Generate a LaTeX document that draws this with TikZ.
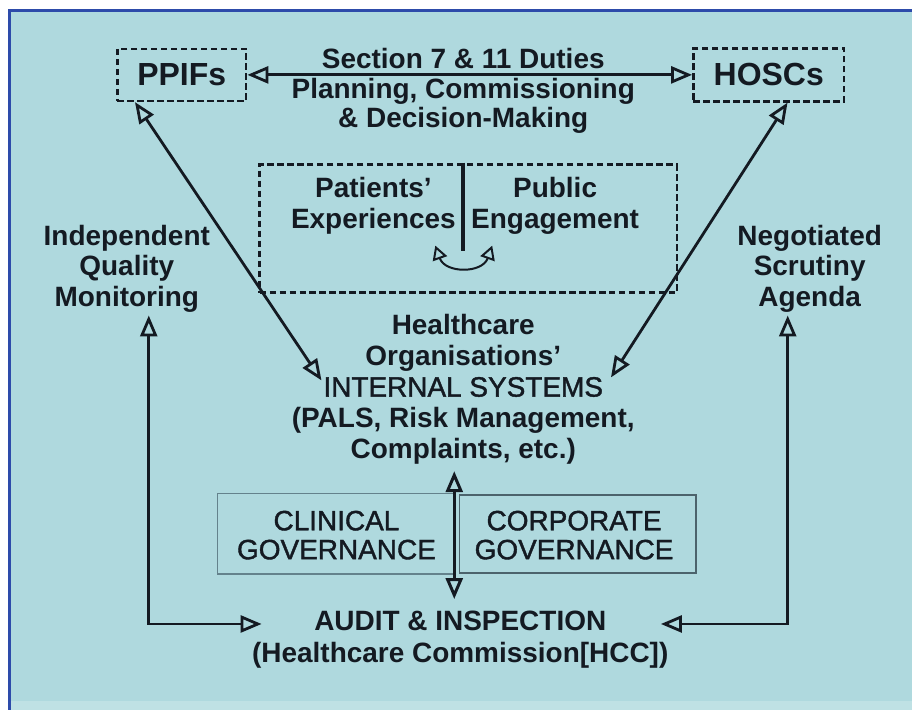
\documentclass[tikz,border=0pt]{standalone}
\usepackage{fontspec}
\setmainfont{Liberation Sans}
\font\govfont="Liberation Sans:embolden=1.4" at 28pt
\usetikzlibrary{arrows.meta,positioning}
\definecolor{panel}{RGB}{175,217,222}
\definecolor{frame}{RGB}{45,75,170}
\definecolor{ink}{RGB}{20,26,34}
\definecolor{govline}{RGB}{100,130,140}
\tikzset{
	txt/.style = {align=center, inner sep=0pt, text=ink, font=\bfseries\fontsize{28}{30.5}\selectfont},
	txtplain/.style = {txt, font=\fontsize{28}{29}\selectfont\govfont},
	bigtxt/.style = {txt, font=\bfseries\fontsize{32}{34}\selectfont},
	dbox/.style = {draw=ink, line width=2.6pt, dash pattern=on 6.5pt off 3.5pt},
	govbox/.style = {draw=govline, line width=1.4pt, inner sep=0pt},
	twoway/.style = {{Triangle[open,length=21pt,width=17pt]}-{Triangle[open,length=21pt,width=17pt]}, draw=ink, line width=2.8pt},
	swap/.style = {{Triangle[open,length=14pt,width=15pt]}-{Triangle[open,length=14pt,width=15pt]}, draw=ink, line width=2pt}
}
\begin{document}
\begin{tikzpicture}[x=1pt,y=-1pt]
	% page, panel and frame
	\fill[white] (0,0) rectangle (913,711);
	\fill[panel] (9,9) rectangle (913,711);
	\fill[panel!80!white] (11,702) rectangle (913,711);
	\draw[frame, line width=3pt] (9.5,711) -- (9.5,10.5) -- (913,10.5);
	
	% top row
	\node[bigtxt, dbox, minimum width=129pt, minimum height=52pt] (ppifs) at (182,75) {PPIFs};
	\node[bigtxt, dbox, minimum width=151pt, minimum height=53pt] (hoscs) at (770,75) {HOSCs};
	\node[txt, font=\bfseries\fontsize{28}{30}\selectfont] (duties) at (464,91) {Section 7 \& 11 Duties\\Planning, Commissioning\\\& Decision-Making};
	\draw[twoway] (ppifs) -- (hoscs);
	
	% patients and public
	\node[dbox, minimum width=418pt, minimum height=128pt, inner sep=0pt] (voice) at (469,229) {};
	\draw[ink, line width=4pt] (464,163) -- (464,251);
	\node[txt] (pat) at (374,206) {Patients'\\Experiences};
	\node[txt] (pub) at (556,206) {Public\\Engagement};
	\coordinate (swL) at (436,246);
	\coordinate (swR) at (493,246);
	\draw[swap] (swL) .. controls +(10,28) and +(-10,28) .. (swR);
	
	% side labels
	\node[txt] (iqm) at (127,269) {Independent\\Quality\\Monitoring};
	\node[txt] (nsa) at (811,269) {Negotiated\\Scrutiny\\Agenda};
	
	% internal systems
	\node[txt, font=\bfseries\fontsize{28}{31}\selectfont] (sys) at (464,390)
	{Healthcare\\Organisations'\\{\govfont INTERNAL SYSTEMS}\\(PALS, Risk Management,\\Complaints, etc.)};
	\coordinate (sysL) at (322,381);
	\coordinate (sysR) at (612,378);
	\draw[twoway] ([xshift=19pt]ppifs.south west) -- (sysL);
	\draw[twoway] ([xshift=-58pt]hoscs.south east) -- (sysR);
	
	% governance
	\node[govbox, minimum width=237pt, minimum height=81pt] (clinbox) at (336.5,534.5) {};
	\node[govbox, draw=govline!70!ink, minimum width=237pt, minimum height=78pt] (corpbox) at (578.5,535) {};
	\node[txtplain] (clin) at (337,536) {CLINICAL\\GOVERNANCE};
	\node[txtplain] (corp) at (575,536) {CORPORATE\\GOVERNANCE};
	
	% audit
	\node[txt, font=\bfseries\fontsize{28}{32}\selectfont] (audit) at (461,641) {AUDIT \& INSPECTION\\(Healthcare Commission[HCC])};
	\coordinate (govT) at (455,472);
	\coordinate (govB) at (455,600);
	\draw[twoway, line width=3pt] (govT) -- (govB);
	
	% monitoring and scrutiny loops
	\coordinate (iqmB) at (149,316);
	\coordinate (nsaB) at (789,316);
	\coordinate (audL) at (262,625);
	\coordinate (audR) at (662,625);
	\draw[twoway] (iqmB) |- (audL);
	\draw[twoway] (nsaB) |- (audR);
\end{tikzpicture}
\end{document}
